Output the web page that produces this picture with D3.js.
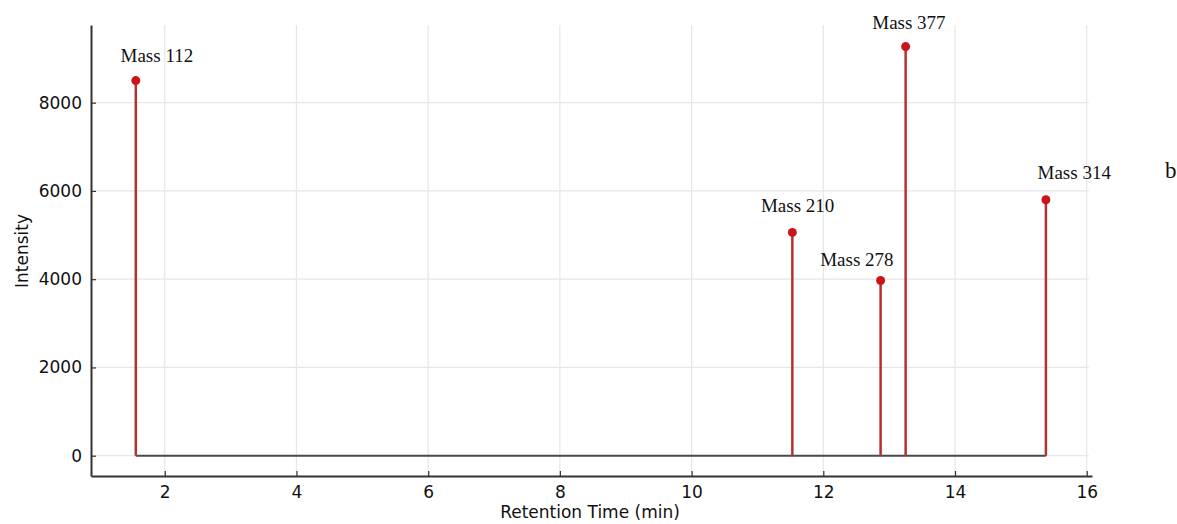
<!DOCTYPE html>
<html>
<head>
<meta charset="utf-8">
<script src="https://cdn.jsdelivr.net/npm/d3@7"></script>
<style>
  body { margin: 0; background: #fff; }
</style>
</head>
<body>
<div id="wrapper"></div>
<script>
// peak data
const peakTimes = [1.56, 11.53, 12.87, 13.25, 15.38]
const peakIntensities = [8500, 5060, 3970, 9270, 5800]
const peakNames = ["Mass 112", "Mass 210", "Mass 278", "Mass 377", "Mass 314"]
// where each annotation sits, in data units (time, intensity of text baseline)
const labelTimes = [1.88, 11.61, 12.51, 13.30, 15.81]
const labelIntensities = [8920, 5520, 4300, 9660, 6270]

const xTicks = [2, 4, 6, 8, 10, 12, 14, 16]
const yTicks = [0, 2000, 4000, 6000, 8000]

function drawChart() {
  let dimensions = {
    width: 1177,
    height: 524,
    margin: { top: 25, right: 85, bottom: 48, left: 91 },
  }
  dimensions.boundedWidth = dimensions.width - dimensions.margin.left - dimensions.margin.right
  dimensions.boundedHeight = dimensions.height - dimensions.margin.top - dimensions.margin.bottom

  const svg = d3.select("#wrapper")
    .append("svg")
      .attr("width", dimensions.width)
      .attr("height", dimensions.height)

  const bounds = svg.append("g")
    .attr("transform", `translate(${dimensions.margin.left},${dimensions.margin.top})`)

  const xScale = d3.scaleLinear()
    .domain([0.88, 16.08])
    .range([0, dimensions.boundedWidth])

  const yScale = d3.scaleLinear()
    .domain([-460, 9760])
    .range([dimensions.boundedHeight, 0])

  // grid
  const gridRight = xScale(16.03)
  bounds.append("g")
    .selectAll("line")
    .data(yTicks)
    .join("line")
      .attr("x1", 0)
      .attr("x2", gridRight)
      .attr("y1", d => yScale(d))
      .attr("y2", d => yScale(d))
      .attr("stroke", "#e6e6e6")
      .attr("stroke-width", 1.2)
  bounds.append("g")
    .selectAll("line")
    .data(xTicks)
    .join("line")
      .attr("x1", d => xScale(d))
      .attr("x2", d => xScale(d))
      .attr("y1", 0)
      .attr("y2", dimensions.boundedHeight)
      .attr("stroke", "#e6e6e6")
      .attr("stroke-width", 1.2)

  // baseline through the peaks
  bounds.append("line")
    .attr("x1", xScale(d3.min(peakTimes)))
    .attr("x2", xScale(d3.max(peakTimes)))
    .attr("y1", yScale(0))
    .attr("y2", yScale(0))
    .attr("stroke", "#4a4a4a")
    .attr("stroke-width", 2)

  // stems
  bounds.append("g")
    .selectAll("line")
    .data(peakTimes)
    .join("line")
      .attr("x1", d => xScale(d))
      .attr("x2", d => xScale(d))
      .attr("y1", yScale(0))
      .attr("y2", (d, i) => yScale(peakIntensities[i]))
      .attr("stroke", "#b7302f")
      .attr("stroke-width", 2.5)

  bounds.append("g")
    .selectAll("circle")
    .data(peakTimes)
    .join("circle")
      .attr("cx", d => xScale(d))
      .attr("cy", (d, i) => yScale(peakIntensities[i]))
      .attr("r", 4.5)
      .attr("fill", "#cc1418")

  // annotations
  bounds.append("g")
    .selectAll("text")
    .data(peakNames)
    .join("text")
      .attr("x", (d, i) => xScale(labelTimes[i]))
      .attr("y", (d, i) => yScale(labelIntensities[i]))
      .attr("text-anchor", "middle")
      .style("font-family", "'Liberation Serif', serif")
      .style("font-size", "19px")
      .attr("fill", "#111")
      .text(d => d)

  // axes
  const xAxisGenerator = d3.axisBottom(xScale)
    .tickValues(xTicks)
    .tickSizeInner(-5)
    .tickSizeOuter(0)
    .tickPadding(10)
  const xAxis = bounds.append("g")
    .attr("transform", `translate(0,${dimensions.boundedHeight})`)
    .call(xAxisGenerator)

  const yAxisGenerator = d3.axisLeft(yScale)
    .tickValues(yTicks)
    .tickFormat(d3.format("d"))
    .tickSizeInner(-5)
    .tickSizeOuter(0)
    .tickPadding(9)
  const yAxis = bounds.append("g").call(yAxisGenerator)

  ;[xAxis, yAxis].forEach(ax => {
    ax.select(".domain").attr("stroke", "#333").attr("stroke-width", 2)
    ax.selectAll(".tick line").attr("stroke", "#333").attr("stroke-width", 1.2)
    ax.selectAll(".tick text")
      .attr("fill", "#111")
      .style("font-family", "'DejaVu Sans', sans-serif")
      .style("font-size", "17px")
  })

  svg.append("text")
    .attr("x", 590)
    .attr("y", 518)
    .attr("text-anchor", "middle")
    .style("font-family", "'DejaVu Sans', sans-serif")
    .style("font-size", "17px")
    .attr("fill", "#111")
    .text("Retention Time (min)")

  svg.append("text")
    .attr("transform", "translate(28,251) rotate(-90)")
    .attr("text-anchor", "middle")
    .style("font-family", "'DejaVu Sans', sans-serif")
    .style("font-size", "17px")
    .attr("fill", "#111")
    .text("Intensity")

  svg.append("text")
    .attr("x", 1165)
    .attr("y", 178)
    .style("font-family", "'Liberation Serif', serif")
    .style("font-size", "23px")
    .attr("fill", "#111")
    .text("b")
}

drawChart()
</script>
</body>
</html>
